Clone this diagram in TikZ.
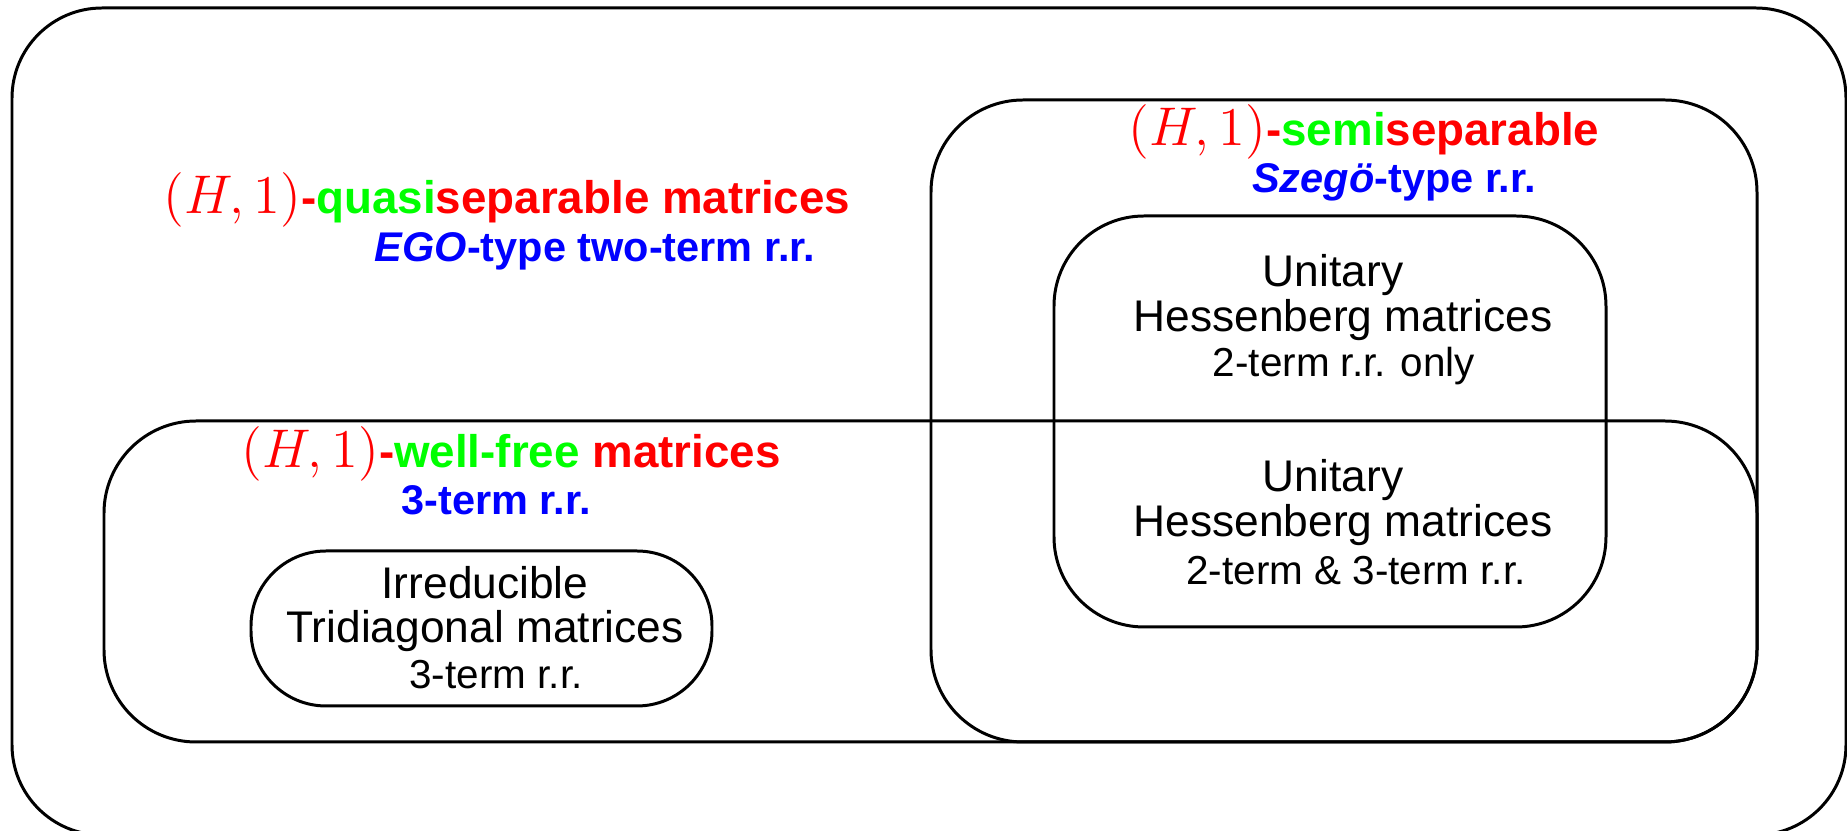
\RequirePackage{fix-cm}
\documentclass[tikz,border=0pt]{standalone}
\usepackage{graphicx}
\usepackage[no-math]{fontspec}
\setmainfont{Liberation Sans}
\definecolor{hred}{RGB}{255,0,0}
\definecolor{hgreen}{RGB}{0,255,0}
\definecolor{hblue}{RGB}{0,0,255}
\newcommand{\Hone}{{\fontsize{15.5}{15.5}\selectfont$(H,1)$}}
\begin{document}
\begin{tikzpicture}[x=0.01cm,y=-0.01cm,
  setbox/.style={draw=black,line width=0.85pt},
  title/.style={anchor=base,inner sep=0pt,font=\fontsize{13}{13}\selectfont\bfseries},
  sub/.style={anchor=base,inner sep=0pt,font=\fontsize{11.8}{11.8}\selectfont\bfseries,text=hblue},
  plain/.style={anchor=base,inner sep=0pt,font=\fontsize{12.6}{12.6}\selectfont},
  small/.style={anchor=base,inner sep=0pt,font=\fontsize{11.5}{11.5}\selectfont}]
\useasboundingbox (0,0) rectangle (1847,831);
% sets
\draw[setbox,rounded corners=0.9cm] (12,8) rectangle (1846,835);
\draw[setbox,rounded corners=0.92cm] (931,100) rectangle (1757,742);
\draw[setbox,rounded corners=0.92cm] (104,421) rectangle (1757,742);
\draw[setbox,rounded corners=0.9cm] (1054,216) rectangle (1606,627);
\draw[setbox,rounded corners=0.75cm] (251,551) rectangle (712,706);
% quasiseparable
\node[title] (qtitle) at (507,214) {\textcolor{hred}{\Hone-}\textcolor{hgreen}{quasi}\textcolor{hred}{separable matrices}};
\node[sub] (qsub) at (595,262) {\textit{EGO}-type two-term r.r.};
% semiseparable
\node[title] (stitle) at (1364,146) {\textcolor{hred}{\Hone-}\textcolor{hgreen}{semi}\textcolor{hred}{separable}};
\node[sub] (ssub) at (1394,193) {\textit{Szegö}-type r.r.};
% well-free
\node[title] (wtitle) at (511,468) {\textcolor{hred}{\Hone-}\textcolor{hgreen}{well-free} \textcolor{hred}{matrices}};
\node[sub] (wsub) at (496,515) {3-term r.r.};
% unitary Hessenberg (upper part)
\node[plain] (u1) at (1333,287) {Unitary};
\node[plain] (u2) at (1343,332) {Hessenberg matrices};
\node[small] (u3) at (1344,377) {2-term r.r. only};
% unitary Hessenberg (lower part)
\node[plain] (v1) at (1333,492) {Unitary};
\node[plain] (v2) at (1343,537) {Hessenberg matrices};
\node[small] (v3) at (1356,585) {2-term \& 3-term r.r.};
% irreducible tridiagonal
\node[plain] (t1) at (485,599) {Irreducible};
\node[plain] (t2) at (485,643) {Tridiagonal matrices};
\node[small] (t3) at (496,689) {3-term r.r.};
\end{tikzpicture}
\end{document}
